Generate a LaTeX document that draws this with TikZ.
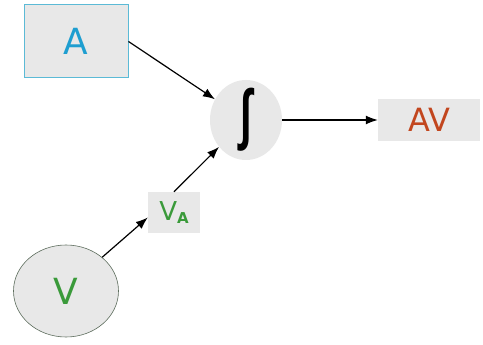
\documentclass[tikz,border=0pt]{standalone}
\usepackage{fontspec}
\setmainfont{DejaVu Sans}
\newfontfamily\intfont{Liberation Sans}
\usetikzlibrary{shapes.geometric,arrows.meta}
\definecolor{panel}{HTML}{E8E8E8}
\definecolor{aframe}{HTML}{5BBAD6}
\definecolor{atext}{HTML}{1E9ED0}
\definecolor{avtext}{HTML}{C2461E}
\definecolor{vtext}{HTML}{3A9A3A}
\definecolor{vframe}{HTML}{5E6E5E}
\tikzset{
  flow/.style={-{Latex[length=12pt,width=9pt]}, line width=1.2pt, black},
  bigtext/.style={font=\fontsize{36}{40}\selectfont},
}
\begin{document}
\begin{tikzpicture}[x=1pt,y=-1pt]
  \useasboundingbox[fill=white] (0,0) rectangle (483,345);
  % input box
  \node[draw=aframe, line width=1pt, fill=panel, minimum width=104pt, minimum height=73pt,
        inner sep=0pt, bigtext, text=atext] (a) at (76,41.5) {A};
  % integrator body and its symbol
  \node[ellipse, fill=panel, minimum width=72pt, minimum height=80pt, inner sep=0pt]
        (int) at (246,120) {};
  \node[inner sep=0pt, font=\intfont\fontsize{46}{50}\selectfont\bfseries]
        (intsym) at (int.center) {\scalebox{0.9}[1.45]{∫}};
  % output
  \node[fill=panel, minimum width=102pt, minimum height=42pt, inner sep=0pt,
        font=\fontsize{32}{36}\selectfont, text=avtext] (av) at (429,120) {AV};
  % volume source
  \node[ellipse, draw=vframe, line width=0.6pt, fill=panel, minimum width=105pt,
        minimum height=92pt, inner sep=0pt, bigtext, text=vtext] (v) at (66,291) {V};
  % intermediate label
  \node[fill=panel, minimum width=52pt, minimum height=41pt, inner sep=0pt,
        font=\fontsize{26}{30}\selectfont, text=vtext] (va) at (174,212.5)
        {V\raisebox{-0.25ex}{\fontsize{15}{16}\selectfont\bfseries A}};
  % connectors
  \draw[flow] (a.east) -- (int);
  \draw[flow] (v.43) -- ([yshift=-5pt]va.west);
  \draw[flow] (va.north) -- (int);
  \draw[flow] (int.east) -- (av.west);
\end{tikzpicture}
\end{document}
